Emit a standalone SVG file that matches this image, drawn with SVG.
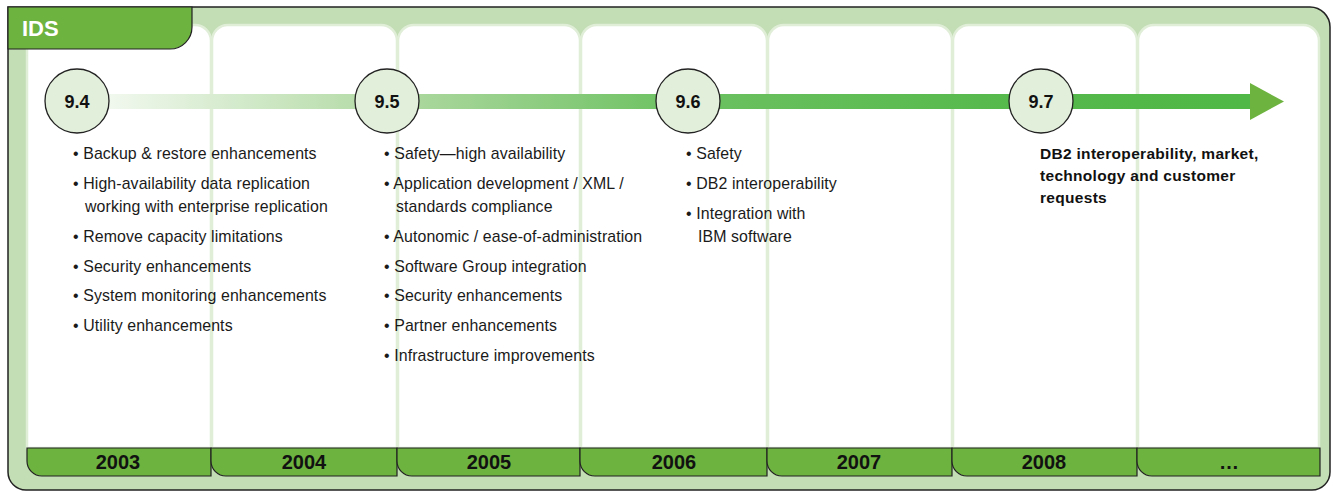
<svg xmlns="http://www.w3.org/2000/svg" width="1340" height="492" viewBox="0 0 1340 492">
<defs>
<linearGradient id="bar" gradientUnits="userSpaceOnUse" x1="109" y1="0" x2="1252" y2="0">
<stop offset="0" stop-color="#f1f8ee"/>
<stop offset="0.24" stop-color="#b2daa4"/>
<stop offset="0.5" stop-color="#6cc161"/>
<stop offset="0.8" stop-color="#55b94b"/>
<stop offset="1" stop-color="#4fb846"/>
</linearGradient>
<style>
.frame{fill:#c3ddb5;stroke:#222;stroke-width:1.5}
.col{fill:#fff;stroke:#e0eed8;stroke-width:2.5}
.tab{fill:#6db33f;stroke:#222;stroke-width:1.2}
.yr{fill:#6db33f;stroke:#222;stroke-width:1.2}
.yt{font-family:"Liberation Sans",Arial,sans-serif;font-weight:bold;font-size:20px;fill:#111;text-anchor:middle}
.ver{fill:#e2efda;stroke:#222;stroke-width:1.3}
.vt{font-family:"Liberation Sans",Arial,sans-serif;font-weight:bold;font-size:18px;fill:#111;text-anchor:middle}
.it{font-family:"Liberation Sans",Arial,sans-serif;font-size:15.9px;fill:#1a1a1a;letter-spacing:0.1px}
.bt{font-family:"Liberation Sans",Arial,sans-serif;font-weight:bold;font-size:15.5px;fill:#111;letter-spacing:0.3px}
</style>
</defs>
<g id="frame">
<path class="frame" d="M8,7 H1310 A20,20 0 0 1 1330,27 V472 A18,18 0 0 1 1312,490 H26 A18,18 0 0 1 8,472 Z"/>
</g>
<g id="columns">
<path class="col" d="M27,448 V41 A16,16 0 0 1 43,25 H195 A16,16 0 0 1 211,41 V448 Z"/>
<path class="col" d="M212,448 V41 A16,16 0 0 1 228,25 H381 A16,16 0 0 1 397,41 V448 Z"/>
<path class="col" d="M398,448 V41 A16,16 0 0 1 414,25 H564 A16,16 0 0 1 580,41 V448 Z"/>
<path class="col" d="M581,448 V41 A16,16 0 0 1 597,25 H751 A16,16 0 0 1 767,41 V448 Z"/>
<path class="col" d="M768,448 V41 A16,16 0 0 1 784,25 H936 A16,16 0 0 1 952,41 V448 Z"/>
<path class="col" d="M953,448 V41 A16,16 0 0 1 969,25 H1121 A16,16 0 0 1 1137,41 V448 Z"/>
<path class="col" d="M1138,448 V41 A16,16 0 0 1 1154,25 H1303 A16,16 0 0 1 1319,41 V448 Z"/>
</g>
<g id="tab">
<path class="tab" d="M8,7 H192 V27 A22,22 0 0 1 170,49 H8 Z"/>
<text x="22" y="36" font-family="Liberation Sans,Arial,sans-serif" font-weight="bold" font-size="22" fill="#fff">IDS</text>
</g>
<g id="connectors">
<rect x="109" y="94" width="1143" height="15" fill="url(#bar)"/>
<polygon points="1250,83 1284,101.5 1250,120" fill="#6db33f"/>
</g>
<g id="v94"><circle class="ver" cx="77" cy="101" r="32"/><text class="vt" x="77" y="108">9.4</text></g>
<g id="v95"><circle class="ver" cx="387" cy="101" r="32"/><text class="vt" x="387" y="108">9.5</text></g>
<g id="v96"><circle class="ver" cx="688" cy="101" r="32"/><text class="vt" x="688" y="108">9.6</text></g>
<g id="v97"><circle class="ver" cx="1041" cy="101" r="32"/><text class="vt" x="1041" y="108">9.7</text></g>
<g id="list94">
<text class="it" x="73" y="159">• Backup &amp; restore enhancements</text>
<text class="it" x="73" y="189">• High-availability data replication</text>
<text class="it" x="85" y="212">working with enterprise replication</text>
<text class="it" x="73" y="242">• Remove capacity limitations</text>
<text class="it" x="73" y="272">• Security enhancements</text>
<text class="it" x="73" y="301">• System monitoring enhancements</text>
<text class="it" x="73" y="331">• Utility enhancements</text>
</g>
<g id="list95">
<text class="it" x="384" y="159">• Safety—high availability</text>
<text class="it" x="384" y="189">• Application development / XML /</text>
<text class="it" x="396" y="212">standards compliance</text>
<text class="it" x="384" y="242">• Autonomic / ease-of-administration</text>
<text class="it" x="384" y="272">• Software Group integration</text>
<text class="it" x="384" y="301">• Security enhancements</text>
<text class="it" x="384" y="331">• Partner enhancements</text>
<text class="it" x="384" y="361">• Infrastructure improvements</text>
</g>
<g id="list96">
<text class="it" x="686" y="159">• Safety</text>
<text class="it" x="686" y="189">• DB2 interoperability</text>
<text class="it" x="686" y="219">• Integration with</text>
<text class="it" x="698" y="242">IBM software</text>
</g>
<g id="list97">
<text class="bt" x="1040" y="159">DB2 interoperability, market,</text>
<text class="bt" x="1040" y="181">technology and customer</text>
<text class="bt" x="1040" y="203">requests</text>
</g>
<g id="years">
<path class="yr" d="M27,448 H211 V476 H42 A15,15 0 0 1 27,461 Z"/><text class="yt" x="118" y="469">2003</text>
<path class="yr" d="M211,448 H397 V476 H226 A15,15 0 0 1 211,461 Z"/><text class="yt" x="304" y="469">2004</text>
<path class="yr" d="M397,448 H580 V476 H412 A15,15 0 0 1 397,461 Z"/><text class="yt" x="489" y="469">2005</text>
<path class="yr" d="M580,448 H767 V476 H595 A15,15 0 0 1 580,461 Z"/><text class="yt" x="674" y="469">2006</text>
<path class="yr" d="M767,448 H952 V476 H782 A15,15 0 0 1 767,461 Z"/><text class="yt" x="859" y="469">2007</text>
<path class="yr" d="M952,448 H1137 V476 H967 A15,15 0 0 1 952,461 Z"/><text class="yt" x="1044" y="469">2008</text>
<path class="yr" d="M1137,448 H1320 V476 H1152 A15,15 0 0 1 1137,461 Z"/><text class="yt" x="1229" y="469">…</text>
</g>
</svg>
